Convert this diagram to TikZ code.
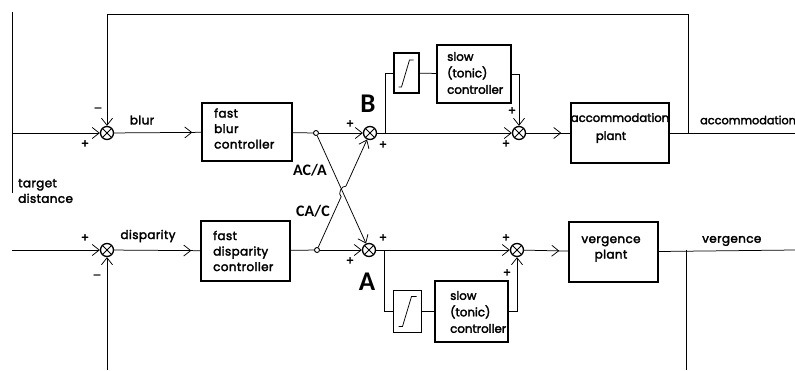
\documentclass[tikz,border=0pt]{standalone}
\usepackage{fontspec}
\setmainfont{Poppins}
\newfontfamily\mfont{Poppins}[FakeBold=2.5,LetterSpace=3]
\newfontfamily\afont{Poppins}[FakeBold=2.5]
\newfontfamily\lblfont{Carlito}
\usetikzlibrary{arrows.meta,decorations.markings,calc}
\begin{document}
\begin{tikzpicture}[x=1pt,y=-1pt,
  wire/.style={line width=0.75pt},
  arr/.style={-{Straight Barb[length=7pt,width=11pt]}},
  midarr/.style={postaction={decorate},decoration={markings,mark=at position -9pt with {\arrow{Straight Barb[length=7pt,width=11pt]}}}},
  block/.style={draw,line width=1.4pt,inner sep=0pt},
  sum/.style={circle,draw,line width=1.3pt,minimum size=13pt,inner sep=0pt,
    path picture={\draw[line width=0.75pt] (path picture bounding box.north west)--(path picture bounding box.south east) (path picture bounding box.north east)--(path picture bounding box.south west);}},
  tap/.style={circle,draw,line width=0.9pt,fill=white,minimum size=5pt,inner sep=0pt},
  txt/.style={font=\mfont\fontsize{12}{15.5}\selectfont,align=left,inner sep=0pt},
  slowtxt/.style={font=\afont\fontsize{11.8}{16.5}\selectfont,align=left,inner sep=0pt},
  sgn/.style={font=\afont\fontsize{12}{12}\selectfont,inner sep=0pt},
  big/.style={font=\lblfont\bfseries\fontsize{27}{27}\selectfont,inner sep=0pt},
  ratio/.style={font=\lblfont\bfseries\fontsize{16}{16}\selectfont,inner sep=0pt},
]
\useasboundingbox (0,0) rectangle (795,370);

% junctions and taps
\node[sum] (s1) at (107,133) {};
\node[sum] (s2) at (107,250) {};
\node[sum] (sB) at (370,133) {};
\node[sum] (sA) at (369,250) {};
\node[sum] (j2u) at (519,133) {};
\node[sum] (j2l) at (517,250) {};
\node[tap] (tu) at (316,133) {};
\node[tap] (tl) at (317,250) {};

% blocks
\node[block,minimum width=90pt,minimum height=58pt] (fb) at (247,132) {};
\node[block,minimum width=89pt,minimum height=60pt] (fd) at (245.5,251) {};
\node[block,minimum width=25pt,minimum height=40pt] (sat1) at (406.5,73) {};
\node[block,minimum width=74pt,minimum height=58pt] (slow1) at (474,74) {};
\node[block,minimum width=28pt,minimum height=42pt] (sat2) at (407.5,311.5) {};
\node[block,minimum width=73pt,minimum height=61pt] (slow2) at (471.5,311.5) {};
\node[block,minimum width=98pt,minimum height=60pt] (acc) at (620,133) {};
\node[block,minimum width=89pt,minimum height=60pt] (verg) at (613.5,252) {};

% block texts
\node[txt,anchor=west] (tfb) at (214,128.5) {fast\\blur\\controller};
\node[txt,anchor=west] (tfd) at (213,251) {fast\\disparity\\controller};
\node[slowtxt,anchor=west] (ts1) at (447,73) {slow\\(tonic)\\controller};
\node[slowtxt,anchor=west] (ts2) at (450,312) {slow\\(tonic)\\controller};
\node[txt,align=center,font=\afont\fontsize{11.6}{18}\selectfont] (tacc) at (620,128) {accommodation\\\hspace*{-18pt}plant};
\node[txt,align=center] (tverg) at (611,249) {vergence\\plant};

% saturation symbols
\draw[wire] ($(sat1)+(-8,14)$) -- ++(3,0) -- ($(sat1)+(3,-13)$) -- ++(4,0);
\draw[wire] ($(sat2)+(-9,15)$) -- ++(4,0) -- ($(sat2)+(4,-15)$) -- ++(5,0);

% coordinates
\coordinate (lt) at (12,12);
\coordinate (lb) at (12,193);
\coordinate (in1) at (12,133);
\coordinate (in2) at (12,250);
\coordinate (fbl) at (107,370);
\coordinate (bu) at (385,133);
\coordinate (bl) at (384,250);
\coordinate (outA) at (795,133);
\coordinate (outV) at (795,250);
\coordinate (c1) at (688,133);
\coordinate (tr) at (688,14);
\coordinate (v1) at (686,250);
\coordinate (v2) at (686,370);
\coordinate (h1) at ($(tl)!0.455!(sB)$);
\coordinate (h2) at ($(tl)!0.545!(sB)$);

% wires
\draw[wire] (lt) -- (lb);
\draw[wire,arr] (in1) -- (s1);
\draw[wire,arr] (in2) -- (s2);
\draw[wire,arr] (fbl) -- (s2);
\draw[wire,arr] (c1) -- (tr) -| (s1);
\draw[wire,midarr] (s1) -- (fb);
\draw[wire,midarr] (s2) -- (fd);
\draw[wire] (fb) -- (tu);
\draw[wire] (fd) -- (tl);
\draw[wire,arr] (tu) -- (sB);
\draw[wire,arr] (tl) -- (sA);
\draw[wire,arr] (tu) -- (sA);
\draw[wire] (tl) -- (h1) to[bend left=80] (h2);
\draw[wire,arr] (h2) -- (sB);
\draw[wire,arr] (sB) -- (j2u);
\draw[wire,arr] (sA) -- (j2l);
\draw[wire] (bu) |- (sat1);
\draw[wire] (sat1) -- (slow1);
\draw[wire,arr] (slow1) -| (j2u);
\draw[wire] (bl) |- (sat2);
\draw[wire] (sat2) -- (slow2);
\draw[wire,arr] (slow2) -| (j2l);
\draw[wire,midarr] (j2u) -- (acc);
\draw[wire,midarr] (j2l) -- (verg);
\draw[wire] (acc) -- (outA);
\draw[wire] (verg) -- (outV);
\draw[wire] (v1) -- (v2);

% signal labels
\node[txt] (lblur) at (142,120) {blur};
\node[txt] (ldisp) at (148,236) {disparity};
\node[txt,anchor=west] (ltd) at (18,191) {target\\distance};
\node[txt,anchor=west,font=\afont\fontsize{11.3}{12}\selectfont] (lacc) at (700,120) {accommodation};
\node[txt,anchor=west] (lverg) at (702,241) {vergence};

% ratio and point labels
\node[ratio] (lACA) at (310,170) {AC/A};
\node[ratio] (lCAC) at (313,211) {CA/C};
\node[big] (lB) at (368,104) {B};
\node[big] (lA) at (367,282) {A};

% signs
\node[sgn] at (98,110) {–};
\node[sgn] at (85,144) {+};
\node[sgn] at (85,238) {+};
\node[sgn] at (97,277) {–};
\node[sgn] at (350,124) {+};
\node[sgn] at (383,145) {+};
\node[sgn] at (383,238) {+};
\node[sgn] at (350,261) {+};
\node[sgn] at (512,111) {+};
\node[sgn] at (506,144) {+};
\node[sgn] at (506,238) {+};
\node[sgn] at (507,273) {+};
\end{tikzpicture}
\end{document}
